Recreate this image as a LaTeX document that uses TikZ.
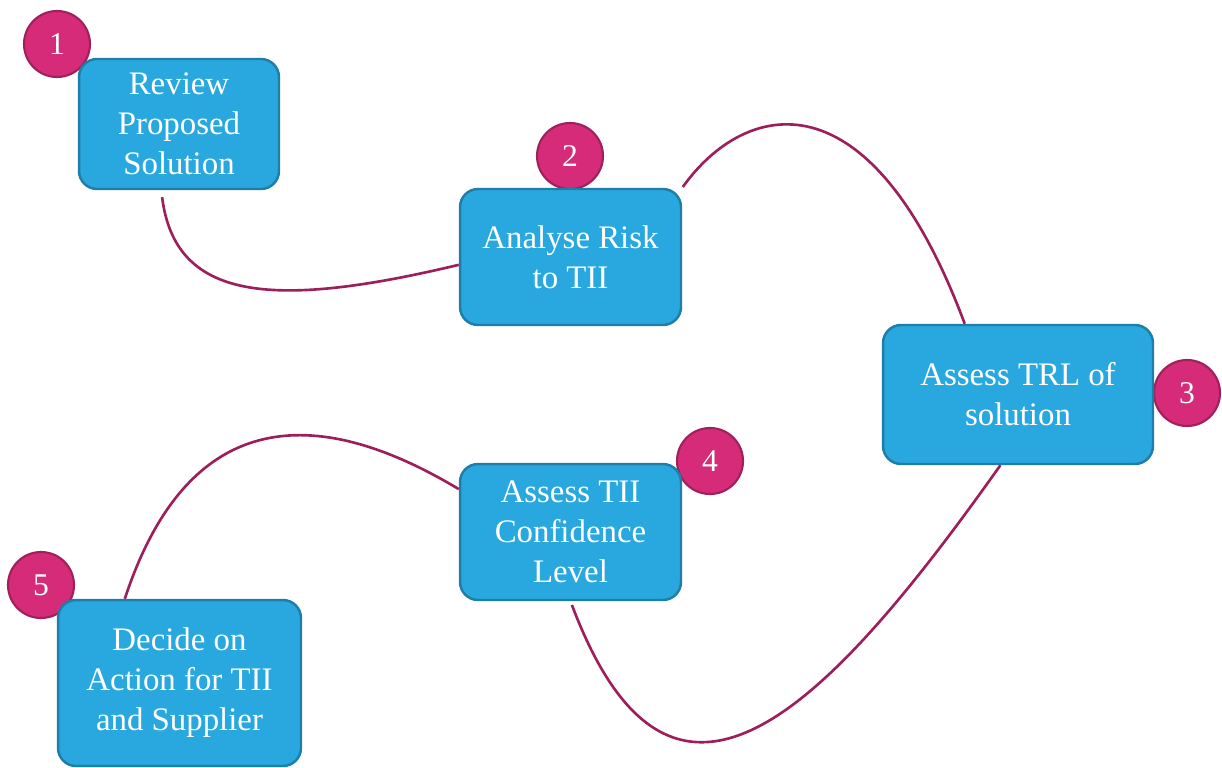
\documentclass[tikz,border=0pt]{standalone}
\usepackage{fontspec}
\setmainfont{Liberation Serif}
\newfontfamily\boxfont{Liberation Serif}
\usetikzlibrary{positioning}
\definecolor{procblue}{RGB}{41,168,224}
\definecolor{procedge}{RGB}{31,126,168}
\definecolor{procpink}{RGB}{213,43,121}
\definecolor{procrim}{RGB}{160,32,92}
\definecolor{proclink}{RGB}{158,30,92}

\begin{document}
\begin{tikzpicture}[x=0.02cm, y=-0.02cm,
    task/.style={rectangle, rounded corners=0.36cm, draw=procedge, fill=procblue, line width=1.4pt, text=white, align=center, inner sep=0pt, font=\boxfont\fontsize{18.7}{22.8}\selectfont},
    badge/.style={circle, draw=procrim, fill=procpink, line width=1.2pt, minimum size=1.32cm, inner sep=0pt, text=white, font=\boxfont\fontsize{18}{20}\selectfont},
    link/.style={proclink, line width=1.5pt}
]
\useasboundingbox (0,0) rectangle (1222,767);

% Number badges (behind the boxes)
\node[badge] (num1) at (57,44) {1};
\node[badge] (num2) at (570,156) {2};
\node[badge] (num3) at (1187,393) {3};
\node[badge] (num4) at (710,461) {4};
\node[badge] (num5) at (41,585) {5};

% Process steps
\node[task, minimum width=4cm, minimum height=2.6cm] (review) at (179,124) {Review\\Proposed\\Solution};
\node[task, minimum width=4.42cm, minimum height=2.72cm] (risk) at (570.5,257) {Analyse Risk\\to TII};
\node[task, minimum width=5.4cm, minimum height=2.78cm] (trl) at (1018,394.5) {Assess TRL of\\solution};
\node[task, minimum width=4.42cm, minimum height=2.72cm] (conf) at (570.5,532) {Assess TII\\Confidence\\Level};
\node[task, minimum width=4.86cm, minimum height=3.32cm] (decide) at (179.5,683) {Decide on\\Action for TII\\and Supplier};

% Connectors
\draw[link, shorten <=0.14cm] (review.-105) .. controls (175,300) and (270,310) .. (risk.-176);
\draw[link, shorten <=0.02cm] (risk.north east) .. controls (745,100) and (870,70) .. (trl.127);
\draw[link, shorten >=0.08cm] (trl.-104) .. controls (820,720) and (670,865) .. (conf.south);
\draw[link] (conf.159) .. controls (360,430) and (200,370) .. (decide.123);

\end{tikzpicture}
\end{document}
